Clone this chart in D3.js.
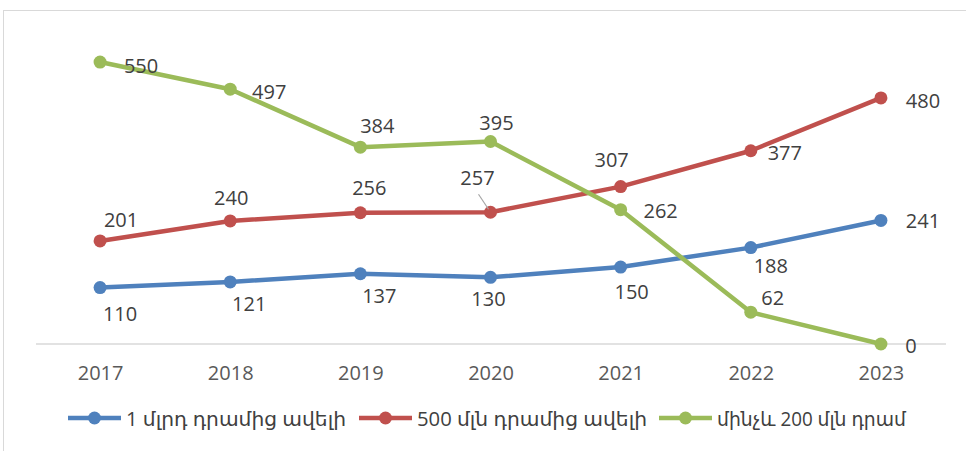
<!DOCTYPE html>
<html>
<head>
<meta charset="utf-8">
<script src="https://cdn.jsdelivr.net/npm/d3@7"></script>
<style>
  body { margin: 0; background: #fff; }
  svg { display: block; font-family: 'Open Sans', 'DejaVu Sans', sans-serif; }
</style>
</head>
<body>
<svg width="966" height="451"></svg>
<script>
const years = ['2017', '2018', '2019', '2020', '2021', '2022', '2023']
const over1bn = [110, 121, 137, 130, 150, 188, 241]
const over500m = [201, 240, 256, 257, 307, 377, 480]
const upTo200m = [550, 497, 384, 395, 262, 62, 0]
const seriesNames = ['1 մլրդ դրամից ավելի', '500 մլն դրամից ավելի', 'մինչև 200 մլն դրամ']

// label nudges, px from the point (Excel put them by hand)
const offsBlue = [[20, 26], [19, 22], [19, 22], [-2, 21], [11, 24], [20, 18], [42, 0]]
const offsRed = [[21, -21], [1, -23], [9, -25], [-13, -35], [-9, -27], [34, 2], [42, 3]]
const offsGreen = [[41, 3], [39, 2], [17, -22], [6, -19], [40, 1], [22, -15], [30, 1]]

const series = [
  { name: seriesNames[0], values: over1bn, color: '#4f81bd', offs: offsBlue },
  { name: seriesNames[1], values: over500m, color: '#c0504d', offs: offsRed },
  { name: seriesNames[2], values: upTo200m, color: '#9bbb59', offs: offsGreen }
]

const svg = d3.select('svg')

// chart area frame
svg.append('rect')
  .attr('x', 3.5).attr('y', 10.5)
  .attr('width', 980).attr('height', 460)
  .attr('fill', 'none')
  .attr('stroke', '#d9d9d9')

const xScale = d3.scalePoint()
  .domain(years)
  .range([35, 946])
  .padding(0.5)

const yScale = d3.scaleLinear()
  .domain([0, 600])
  .range([344, 36.4])

// baseline
svg.append('line')
  .attr('x1', 36).attr('x2', 946)
  .attr('y1', yScale(0)).attr('y2', yScale(0))
  .attr('stroke', '#d9d9d9')
  .attr('stroke-width', 1.5)

const xAxis = d3.axisBottom(xScale).tickSize(0).tickPadding(22)
const xAxisG = svg.append('g')
  .attr('transform', `translate(0, ${yScale(0)})`)
  .call(xAxis)
xAxisG.select('.domain').remove()
xAxisG.selectAll('text')
  .style('font-family', "'Open Sans', sans-serif")
  .style('font-size', '20px')
  .style('fill', '#595959')

const line = d3.line()
  .x((d, i) => xScale(years[i]))
  .y(d => yScale(d))

series.forEach(s => {
  const g = svg.append('g')
  g.append('path')
    .datum(s.values)
    .attr('d', line)
    .attr('fill', 'none')
    .attr('stroke', s.color)
    .attr('stroke-width', 4.5)
    .attr('stroke-linejoin', 'round')

  g.selectAll('circle').data(s.values)
    .enter().append('circle')
    .attr('cx', (d, i) => xScale(years[i]))
    .attr('cy', d => yScale(d))
    .attr('r', 6.5)
    .attr('fill', s.color)
})

// leader line for the 257 label
svg.append('line')
  .attr('x1', xScale('2020') - 12).attr('y1', yScale(257) - 18)
  .attr('x2', xScale('2020') - 2).attr('y2', yScale(257) - 3)
  .attr('stroke', '#a6a6a6')
  .attr('stroke-width', 1.2)

series.forEach(s => {
  svg.append('g').selectAll('text').data(s.values)
    .enter().append('text')
    .attr('x', (d, i) => xScale(years[i]) + s.offs[i][0])
    .attr('y', (d, i) => yScale(d) + s.offs[i][1])
    .attr('text-anchor', 'middle')
    .attr('dominant-baseline', 'central')
    .style('font-size', '20px')
    .style('fill', '#404040')
    .text(d => d)
})

// legend
const legendX = [68, 359, 659]
const legendTextW = [220, 230, 189]
const legend = svg.append('g').attr('transform', 'translate(0, 418)')
series.forEach((s, i) => {
  const item = legend.append('g').attr('transform', `translate(${legendX[i]}, 0)`)
  item.append('line')
    .attr('x1', 0).attr('x2', 53)
    .attr('stroke', s.color)
    .attr('stroke-width', 4.5)
  item.append('circle')
    .attr('cx', 26.5).attr('r', 6.5)
    .attr('fill', s.color)
  item.append('text')
    .attr('x', 58)
    .attr('dominant-baseline', 'central')
    .attr('textLength', legendTextW[i])
    .attr('lengthAdjust', 'spacingAndGlyphs')
    .style('font-size', '20px')
    .style('fill', '#404040')
    .text(s.name)
})
</script>
</body>
</html>
